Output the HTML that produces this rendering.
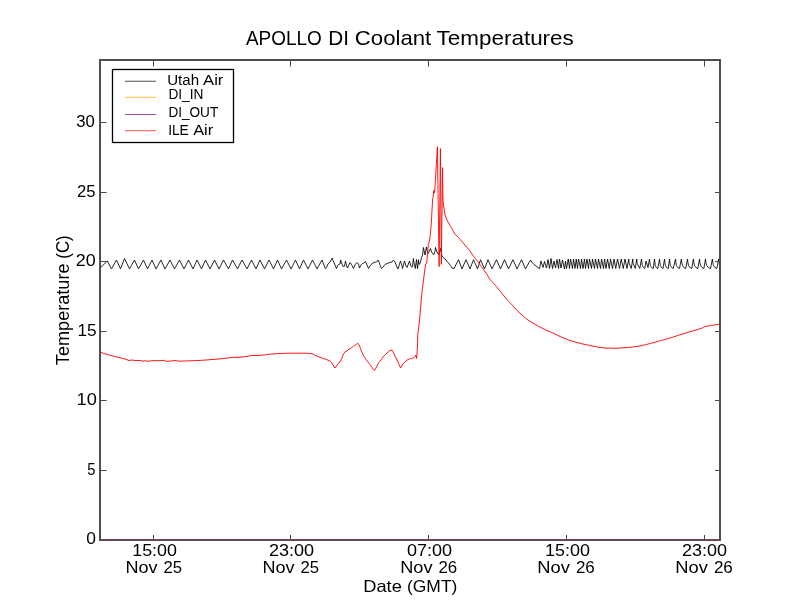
<!DOCTYPE html>
<html><head><meta charset="utf-8"><title>APOLLO DI Coolant Temperatures</title>
<style>
html,body{margin:0;padding:0;background:#fff;}
body{width:800px;height:600px;overflow:hidden;}
svg{display:block;position:absolute;left:0;top:0;}
.tx{will-change:transform;}
text{font-family:'Liberation Sans',sans-serif;fill:#000;}
</style></head>
<body>
<svg width="800" height="600" viewBox="0 0 800 600">
<rect x="0" y="0" width="800" height="600" fill="#fff"/>
<defs><clipPath id="ax"><rect x="100" y="60" width="620" height="480"/></clipPath></defs>
<g clip-path="url(#ax)">
<polyline points="100.00,268.20 107.30,261.00 111.50,268.90 116.50,260.00 120.50,268.90 124.50,258.50 129.50,268.90 134.50,260.00 138.50,268.90 143.50,260.00 147.50,268.90 152.00,260.00 156.00,268.90 161.00,260.00 165.00,268.90 170.00,260.00 174.50,268.90 179.50,260.00 184.00,268.90 188.50,260.00 193.00,268.90 197.00,260.00 201.50,268.90 205.50,260.00 210.00,268.90 214.50,260.00 219.00,268.90 223.50,260.00 228.50,268.90 232.50,260.00 237.50,268.90 242.00,260.00 247.00,268.90 251.50,260.00 256.00,268.90 260.00,260.00 264.50,268.90 269.00,260.00 273.50,268.90 277.50,260.00 281.50,268.90 286.50,260.00 291.00,268.90 295.50,260.00 299.50,268.90 303.50,260.00 308.00,268.90 312.50,260.00 317.00,268.90 322.00,260.00 325.50,268.90 326.50,267.50 328.00,264.00 330.00,262.00 331.50,259.50 332.00,258.00 333.00,260.50 336.50,268.50 337.50,266.00 338.50,264.50 340.00,264.00 340.70,260.00 341.50,263.00 343.50,267.00 344.50,266.00 345.50,261.00 346.00,263.00 346.70,266.00 347.50,268.00 350.00,262.50 351.50,264.50 353.50,268.50 355.50,264.00 357.00,262.50 358.50,264.00 359.50,268.00 361.00,265.00 362.50,263.50 364.00,263.00 365.50,261.50 367.00,265.00 368.50,268.50 370.00,266.00 371.00,264.50 373.00,263.00 374.00,262.50 376.50,262.00 378.00,260.00 379.00,262.00 380.50,266.50 381.50,268.50 383.00,267.00 385.00,264.50 387.00,263.50 390.00,262.50 392.00,262.00 393.50,260.00 395.00,262.00 396.50,266.00 398.00,269.00 399.50,264.00 400.50,261.00 402.00,266.00 402.50,268.50 404.50,261.00 406.00,266.00 407.00,267.50 409.50,261.00 410.50,265.00 411.70,267.20 412.50,266.50 413.40,258.50 414.00,263.00 415.30,268.50 416.50,259.50 417.00,264.00 417.50,268.70 418.50,259.80 419.00,264.50 419.50,264.20 420.50,262.00 421.50,257.50 422.50,255.00 423.50,247.50 424.50,253.00 425.00,255.00 426.50,247.00 427.00,250.00 428.00,253.50 429.50,251.00 430.50,248.50 431.50,252.00 433.00,254.00 434.00,254.50 435.00,251.00 435.50,247.50 436.50,251.00 438.00,254.00 439.00,254.50 440.50,248.50 442.00,256.00 443.00,257.50 445.00,259.00 448.00,262.50 450.50,265.50 452.00,268.00 454.00,268.60 458.50,259.70 462.00,268.90 466.00,259.70 470.00,268.90 473.50,259.70 477.50,268.90 480.50,259.70 484.50,268.90 488.00,259.70 492.00,268.90 496.50,259.70 500.50,268.90 504.50,259.70 508.50,268.90 513.00,259.70 517.00,268.90 521.50,259.70 525.50,268.90 530.50,260.00 532.50,263.00 534.00,264.50 536.00,266.00 539.50,268.60 541.00,261.00 543.00,267.50 544.50,261.50 546.50,268.00 548.00,259.50 549.50,268.50 551.00,258.50 552.50,268.50 554.00,261.00 555.50,268.00 557.00,259.50 558.50,268.50 559.50,259.00 561.00,268.00 562.50,260.00 564.50,269.00 565.50,261.00 566.50,268.50 568.25,259.00 569.50,268.50 570.50,259.00 572.50,268.50 573.50,259.00 575.00,268.50 576.25,259.00 577.50,268.50 578.50,259.00 580.50,268.50 581.50,259.00 583.00,268.50 584.50,259.00 585.50,268.50 587.00,259.00 588.50,268.50 589.50,259.00 591.50,268.50 592.50,259.00 594.50,268.50 595.50,259.00 597.50,268.50 598.50,259.00 600.50,268.50 601.50,259.00 603.50,268.50 604.50,259.00 606.00,268.50 607.50,259.00 609.25,268.50 610.50,259.00 612.50,268.50 614.00,259.00 615.75,268.50 617.50,259.00 619.50,268.50 621.25,259.00 623.25,268.50 625.00,259.00 627.00,268.50 628.75,259.00 629.15,263.27 631.25,268.50 632.75,259.00 633.15,263.27 635.25,268.50 636.75,259.00 637.15,263.27 639.75,268.50 641.50,259.00 641.95,262.80 642.31,265.46 643.29,267.36 644.75,268.50 646.00,261.00 648.00,267.50 649.50,259.00 649.95,262.84 650.44,265.53 651.56,267.45 653.25,268.60 654.50,259.00 654.95,262.84 655.31,265.53 656.29,267.45 657.75,268.60 659.50,259.00 659.95,262.84 660.38,265.53 661.42,267.45 663.00,268.60 664.50,259.00 664.95,262.84 665.44,265.53 666.56,267.45 668.25,268.60 669.50,259.00 669.95,262.84 670.44,265.53 671.56,267.45 673.25,268.60 675.50,259.00 675.95,262.84 676.48,265.53 677.64,267.45 679.40,268.60 681.40,259.00 681.85,262.84 682.48,265.53 683.76,267.45 685.70,268.60 687.50,259.00 687.95,262.84 688.56,265.53 689.84,267.45 691.75,268.60 693.40,259.00 693.85,262.84 694.50,265.53 695.82,267.45 697.80,268.60 699.50,259.00 699.95,262.84 700.60,265.53 701.92,267.45 703.90,268.60 705.50,259.00 705.95,262.84 706.75,265.53 708.25,267.45 710.50,268.60 712.40,259.00 712.85,262.84 713.50,265.53 714.82,267.45 716.80,268.60 718.70,259.00 719.15,262.84 719.53,265.53 720.51,267.45 722.00,268.60" fill="none" stroke="#000" stroke-width="0.85" stroke-linejoin="round"/>
<polyline points="100.00,352.20 105.00,353.80 110.00,355.20 115.00,356.50 120.00,357.70 125.00,359.00 129.00,360.50 132.00,360.00 135.00,360.50 140.00,360.50 143.00,361.30 145.00,360.70 148.00,361.30 152.00,360.70 158.00,360.70 164.00,360.30 166.00,361.30 172.00,361.00 174.00,360.50 180.00,361.20 190.00,360.80 200.00,360.40 210.00,359.70 220.00,358.90 224.00,358.50 232.00,357.40 240.00,357.20 248.00,356.30 250.00,355.60 256.00,355.50 264.00,355.00 270.00,354.20 280.00,353.50 290.00,353.20 305.00,353.20 310.00,353.50 313.00,354.00 315.00,355.30 320.00,357.30 325.00,359.00 330.00,361.00 331.50,362.50 335.00,368.00 336.00,367.00 338.00,363.50 340.00,362.00 341.50,358.80 343.50,354.00 345.00,351.80 347.00,351.00 349.00,349.00 351.00,348.50 352.50,346.70 354.50,345.50 356.00,344.50 357.70,343.40 359.00,344.50 360.50,348.60 362.00,352.50 364.00,356.50 366.00,359.50 368.00,362.00 370.00,364.50 372.00,367.50 374.50,370.50 376.00,368.00 378.50,362.80 381.00,360.00 383.00,357.00 385.50,354.50 388.00,352.00 390.00,350.50 392.00,350.00 393.00,351.50 395.00,356.00 397.00,360.00 399.00,364.50 400.60,368.00 402.00,365.00 404.00,363.00 406.00,361.00 408.00,359.50 409.30,359.00 411.50,358.50 413.50,358.00 415.00,356.50 416.00,355.00 416.50,358.50 417.00,354.00 417.50,345.00 417.80,333.00 418.50,330.00 419.50,320.00 421.00,303.00 422.00,292.00 423.50,280.00 424.50,272.00 425.50,265.00 426.80,262.00 428.30,244.50 428.70,244.00 429.60,240.00 430.40,234.00 431.40,222.00 432.00,210.00 432.60,200.00 433.40,195.00 433.70,190.50 434.50,193.00 435.50,179.00 437.40,146.80 439.10,266.70 440.40,148.60 441.40,264.30 442.50,167.50 443.00,200.00 443.50,205.00 444.50,212.00 445.30,216.00 446.70,219.30 448.00,222.00 450.00,225.30 452.00,228.70 453.30,231.30 454.70,234.00 456.00,235.00 460.00,239.30 466.70,247.00 470.00,251.00 473.30,256.00 476.70,260.00 480.00,264.70 483.30,269.30 486.70,274.00 490.00,279.50 493.00,282.70 496.70,286.70 500.00,291.00 503.30,295.00 506.70,299.30 510.00,302.70 513.30,306.30 516.70,310.00 520.00,313.30 523.30,316.00 526.00,318.70 530.00,321.30 535.00,324.30 540.00,327.00 545.00,329.50 550.00,331.70 555.00,334.00 560.00,336.50 565.00,338.50 570.00,340.50 575.00,342.00 580.00,343.30 585.00,344.50 590.00,345.50 595.00,346.50 600.00,347.50 605.00,348.00 610.00,348.20 615.00,348.30 620.00,348.00 625.00,347.70 630.00,347.30 635.00,346.70 640.00,346.00 650.25,343.50 660.50,340.60 670.75,337.80 681.00,334.50 691.25,331.40 701.50,328.30 703.50,327.50 705.00,326.50 711.75,325.40 720.00,324.20" fill="none" stroke="#ff0000" stroke-width="0.9" stroke-linejoin="round"/>
</g>
<rect x="100" y="539" width="620" height="1" fill="#843e48"/>
<g stroke="#4a4a4a" stroke-width="1" fill="none">
<line x1="101" y1="470.50" x2="106.6" y2="470.50"/>
<line x1="715" y1="470.50" x2="719" y2="470.50"/>
<line x1="101" y1="400.50" x2="106.6" y2="400.50"/>
<line x1="715" y1="400.50" x2="719" y2="400.50"/>
<line x1="101" y1="331.50" x2="106.6" y2="331.50"/>
<line x1="715" y1="331.50" x2="719" y2="331.50"/>
<line x1="101" y1="261.50" x2="106.6" y2="261.50"/>
<line x1="715" y1="261.50" x2="719" y2="261.50"/>
<line x1="101" y1="192.50" x2="106.6" y2="192.50"/>
<line x1="715" y1="192.50" x2="719" y2="192.50"/>
<line x1="101" y1="122.50" x2="106.6" y2="122.50"/>
<line x1="715" y1="122.50" x2="719" y2="122.50"/>
<line x1="153.5" y1="540" x2="153.5" y2="535"/>
<line x1="153.5" y1="61" x2="153.5" y2="66.6"/>
<line x1="290.5" y1="540" x2="290.5" y2="535"/>
<line x1="290.5" y1="61" x2="290.5" y2="66.6"/>
<line x1="428.5" y1="540" x2="428.5" y2="535"/>
<line x1="428.5" y1="61" x2="428.5" y2="66.6"/>
<line x1="566.5" y1="540" x2="566.5" y2="535"/>
<line x1="566.5" y1="61" x2="566.5" y2="66.6"/>
<line x1="704.5" y1="540" x2="704.5" y2="535"/>
<line x1="704.5" y1="61" x2="704.5" y2="66.6"/>
</g>
<g fill="#4e4e4e">
<rect x="99" y="59" width="2" height="482"/>
<rect x="719" y="59" width="2" height="482"/>
<rect x="99" y="59" width="622" height="2"/>
<rect x="99" y="540" width="622" height="1"/>
</g>
<!-- legend -->
<rect x="112.5" y="69.5" width="121" height="73" fill="#fff" stroke="#000" stroke-width="1.3"/>
<rect x="125" y="81" width="31" height="1" fill="#7c7c7c"/>
<rect x="125" y="80" width="31" height="1" fill="#d0d0d0"/>
<rect x="125" y="97" width="31" height="1" fill="#ffc966"/>
<rect x="125" y="96" width="31" height="1" fill="#fff3dd"/>
<rect x="125" y="114" width="31" height="1" fill="#a64da6"/>
<rect x="125" y="130" width="31" height="1" fill="#ff7070"/>
<rect x="125" y="131" width="31" height="1" fill="#ffe0e0"/>
</svg>
<svg class="tx" width="800" height="600" viewBox="0 0 800 600"><text x="245.96" y="44.8" font-size="20.06" textLength="75.84" lengthAdjust="spacingAndGlyphs">APOLLO</text>
<text x="328.3" y="44.8" font-size="20.06" textLength="20.71" lengthAdjust="spacingAndGlyphs">DI</text>
<text x="354.77" y="44.8" font-size="20.06" textLength="76.49" lengthAdjust="spacingAndGlyphs">Coolant</text>
<text x="436.6" y="44.8" font-size="20.06" textLength="137.19" lengthAdjust="spacingAndGlyphs">Temperatures</text>
<text x="86.22" y="544.44" font-size="16.53" textLength="9.66" lengthAdjust="spacingAndGlyphs">0</text>
<text x="87.21" y="474.63" font-size="16.91" textLength="8.21" lengthAdjust="spacingAndGlyphs">5</text>
<text x="76.51" y="404.83" font-size="16.95" textLength="20.26" lengthAdjust="spacingAndGlyphs">10</text>
<text x="77.49" y="335.73" font-size="17.2" textLength="19.13" lengthAdjust="spacingAndGlyphs">15</text>
<text x="75.85" y="265.73" font-size="16.95" textLength="19.9" lengthAdjust="spacingAndGlyphs">20</text>
<text x="77.06" y="196.74" font-size="16.67" textLength="18.54" lengthAdjust="spacingAndGlyphs">25</text>
<text x="76.26" y="126.74" font-size="16.81" textLength="18.59" lengthAdjust="spacingAndGlyphs">30</text>
<text x="132.24" y="555.93" font-size="16.95" textLength="44.66" lengthAdjust="spacingAndGlyphs">15:00</text>
<text x="125.42" y="572.8" font-size="17.15" textLength="32.05" lengthAdjust="spacingAndGlyphs">Nov</text>
<text x="163.41" y="572.8" font-size="17.15" textLength="18.6" lengthAdjust="spacingAndGlyphs">25</text>
<text x="268.99" y="555.93" font-size="16.95" textLength="45.11" lengthAdjust="spacingAndGlyphs">23:00</text>
<text x="262.42" y="572.8" font-size="17.15" textLength="32.05" lengthAdjust="spacingAndGlyphs">Nov</text>
<text x="300.41" y="572.8" font-size="17.15" textLength="18.6" lengthAdjust="spacingAndGlyphs">25</text>
<text x="407.05" y="555.93" font-size="16.95" textLength="45.06" lengthAdjust="spacingAndGlyphs">07:00</text>
<text x="400.26" y="572.8" font-size="17.15" textLength="32.26" lengthAdjust="spacingAndGlyphs">Nov</text>
<text x="438.49" y="572.8" font-size="17.15" textLength="18.75" lengthAdjust="spacingAndGlyphs">26</text>
<text x="545.13" y="555.93" font-size="16.95" textLength="44.97" lengthAdjust="spacingAndGlyphs">15:00</text>
<text x="537.35" y="572.8" font-size="17.15" textLength="32.56" lengthAdjust="spacingAndGlyphs">Nov</text>
<text x="575.92" y="572.8" font-size="17.15" textLength="18.92" lengthAdjust="spacingAndGlyphs">26</text>
<text x="681.94" y="555.93" font-size="16.95" textLength="45.06" lengthAdjust="spacingAndGlyphs">23:00</text>
<text x="675.35" y="572.8" font-size="17.15" textLength="32.56" lengthAdjust="spacingAndGlyphs">Nov</text>
<text x="713.92" y="572.8" font-size="17.15" textLength="18.92" lengthAdjust="spacingAndGlyphs">26</text>
<text x="363.25" y="591.9" font-size="16.72" textLength="38.56" lengthAdjust="spacingAndGlyphs">Date</text>
<text x="407.02" y="591.9" font-size="16.72" textLength="50.31" lengthAdjust="spacingAndGlyphs">(GMT)</text>
<text x="-0.4" y="0" font-size="17.44" textLength="101.64" lengthAdjust="spacingAndGlyphs" transform="translate(69,364.75) rotate(-90)">Temperature</text>
<text x="106.0" y="0" font-size="17.44" textLength="23.5" lengthAdjust="spacingAndGlyphs" transform="translate(69,364.75) rotate(-90)">(C)</text>
<text x="167.24" y="84.6" font-size="13.81" textLength="31.84" lengthAdjust="spacingAndGlyphs">Utah</text>
<text x="203.07" y="84.6" font-size="13.81" textLength="20.31" lengthAdjust="spacingAndGlyphs">Air</text>
<text x="168.38" y="98.75" font-size="14.03" textLength="34.99" lengthAdjust="spacingAndGlyphs">DI_IN</text>
<text x="168.39" y="116.75" font-size="14.17" textLength="49.83" lengthAdjust="spacingAndGlyphs">DI_OUT</text>
<text x="168.13" y="134.8" font-size="14.1" textLength="20.66" lengthAdjust="spacingAndGlyphs">ILE</text>
<text x="193.17" y="134.8" font-size="14.1" textLength="20.11" lengthAdjust="spacingAndGlyphs">Air</text>
</svg>
</body></html>
